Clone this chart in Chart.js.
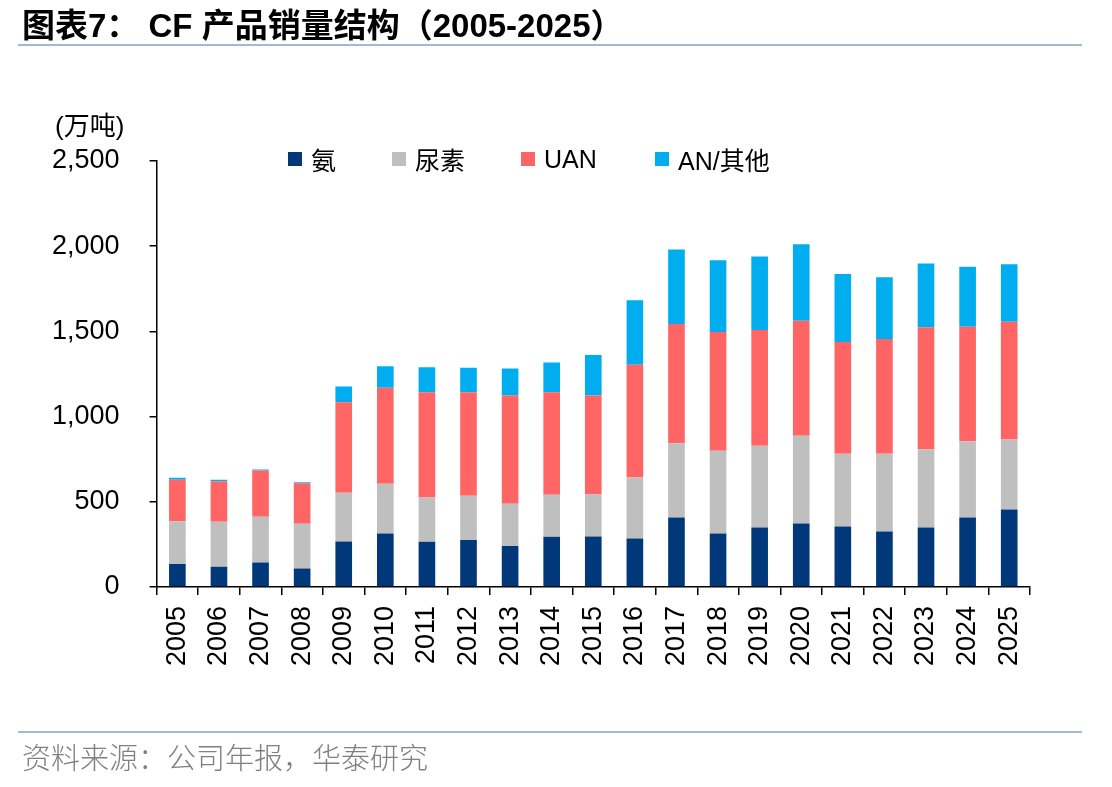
<!DOCTYPE html>
<html>
<head>
<meta charset="utf-8">
<script src="https://cdn.jsdelivr.net/npm/chart.js@4.4.1/dist/chart.umd.min.js"></script>
<style>
  html, body { margin: 0; padding: 0; background: #fff; }
  body { width: 1112px; height: 787px; position: relative; overflow: hidden;
         font-family: "Liberation Sans", Arial, "Noto Sans CJK SC", sans-serif; }
  #title { position: absolute; left: 22px; top: 7px; font-size: 33px; line-height: 1; font-weight: bold;
           font-family: "Liberation Sans", Arial, "Noto Sans CJK SC", sans-serif; color: #000; white-space: nowrap; }
  #title .cjk { font-family: "Noto Sans CJK SC", sans-serif; }
  .rule { position: absolute; left: 18px; width: 1064px; height: 2px; background: #A4B8D0; }
  #unit { position: absolute; left: 55px; top: 111px; font-size: 26px; line-height: 1; color: #000;
          font-family: "Liberation Sans", Arial, "Noto Sans CJK SC", sans-serif; white-space: nowrap; }
  #unit .cjk { font-family: "Noto Sans CJK SC", sans-serif; }
  #source { position: absolute; left: 22px; top: 742px; font-size: 29px; line-height: 1; color: #808080; font-weight: 300;
            font-family: "Noto Sans CJK SC", sans-serif; white-space: nowrap; }
  .lg { position: absolute; top: 145px; height: 28px; display: flex; align-items: center; white-space: nowrap;
        font-size: 25px; color: #000; font-family: "Liberation Sans", Arial, "Noto Sans CJK SC", sans-serif; }
  .lg .sw { width: 14px; height: 14px; margin-right: 9px; display: inline-block; }
  #chartBox { position: absolute; left: 0; top: 0; width: 1112px; height: 787px; }
</style>
</head>
<body>
<div id="chartBox"><canvas id="c"></canvas></div>
<div id="title"><span class="cjk">图表</span>7<span class="cjk">：</span> CF <span class="cjk">产品销量结构（</span>2005-2025<span class="cjk">）</span></div>
<div class="rule" style="top:44px"></div>
<div id="unit">(<span class="cjk">万吨</span>)</div>
<div id="legend"></div>
<div class="rule" style="top:731px"></div>
<div id="source">资料来源：公司年报，华泰研究</div>
<script>
// ---- data (万吨) ----
const years = ['2005','2006','2007','2008','2009','2010','2011','2012','2013','2014','2015','2016','2017','2018','2019','2020','2021','2022','2023','2024','2025'];
const ammonia = [135,119,143,108,267,314,265,276,241,294,296,284,408,314,349,372,355,325,349,408,455];
const urea    = [251,263,269,263,286,292,260,259,247,247,247,359,435,486,480,516,427,457,459,447,410];
const uan     = [243,238,272,237,531,563,618,608,636,602,581,661,700,696,679,675,655,673,716,672,692];
const anOther = [12,9,6,6,92,127,147,143,158,175,237,378,437,422,431,449,400,363,374,353,337];
const seriesNames = ['氨','尿素','UAN','AN/其他'];
const yTicks = [0,500,1000,1500,2000,2500];

const colors = ['#00387A','#BFBFBF','#FF6565','#00AEEF'];
const seriesData = [ammonia, urea, uan, anOther];

// HTML legend
const legendLefts = [288, 392, 521, 655];
const lgRoot = document.getElementById('legend');
seriesNames.forEach((n, i) => {
  const d = document.createElement('div');
  d.className = 'lg';
  d.style.left = legendLefts[i] + 'px';
  const sw = document.createElement('span');
  sw.className = 'sw';
  sw.style.background = colors[i];
  const t = document.createElement('span');
  t.textContent = n;
  d.appendChild(sw); d.appendChild(t);
  lgRoot.appendChild(d);
});

new Chart(document.getElementById('c'), {
  type: 'bar',
  data: {
    labels: years,
    datasets: seriesData.map((arr, i) => ({
      label: seriesNames[i],
      data: arr,
      backgroundColor: colors[i],
      borderWidth: 0,
      barPercentage: 0.4,
      categoryPercentage: 1.0
    }))
  },
  options: {
    responsive: true,
    maintainAspectRatio: false,
    animation: false,
    layout: { padding: { left: 22, right: 82, top: 161, bottom: 110 } },
    plugins: { legend: { display: false }, tooltip: { enabled: false } },
    scales: {
      x: {
        stacked: true,
        grid: { display: true, drawOnChartArea: false, drawTicks: true, tickLength: 8, color: '#000', lineWidth: 1.5, offset: true },
        border: { display: true, color: '#000', width: 1.5 },
        ticks: { color: '#000', font: { family: '"Liberation Sans", Arial, sans-serif', size: 27 },
                 minRotation: 90, maxRotation: 90, padding: 11, autoSkip: false }
      },
      y: {
        stacked: true,
        min: yTicks[0], max: yTicks[yTicks.length - 1],
        afterBuildTicks: (axis) => { axis.ticks = yTicks.map(v => ({ value: v })); },
        grid: { display: true, drawOnChartArea: false, drawTicks: true, tickLength: 7, color: '#000', lineWidth: 1.5 },
        border: { display: true, color: '#000', width: 1.5 },
        ticks: { color: '#000', font: { family: '"Liberation Sans", Arial, sans-serif', size: 27 },
                 padding: 30, callback: (v) => Number(v).toLocaleString('en-US') }
      }
    }
  }
});
</script>
</body>
</html>
